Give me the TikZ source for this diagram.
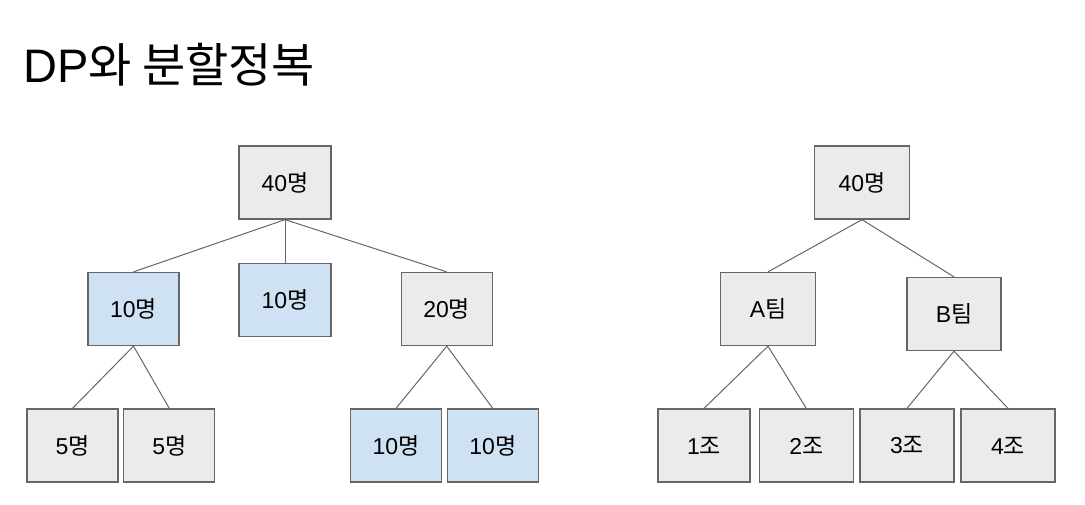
\documentclass[tikz,border=0pt]{standalone}
\usepackage{fontspec}
\setmainfont{Liberation Sans}
\newfontfamily\kr{Noto Sans CJK KR}
\definecolor{boxgray}{HTML}{EBEBEB}
\definecolor{boxblue}{HTML}{CFE2F3}
\definecolor{edgegray}{HTML}{666666}
\tikzset{
  tbox/.style={draw=edgegray, line width=1.3pt, fill=boxgray, minimum width=92pt, minimum height=73pt, inner sep=0pt, font=\fontsize{23}{26}\selectfont},
  bbox/.style={tbox, fill=boxblue},
  link/.style={draw=edgegray, line width=1pt}
}
\begin{document}
\begin{tikzpicture}[x=1pt,y=-1pt]
\useasboundingbox (0,0) rectangle (1085,505);
\node[anchor=base west, inner sep=0pt, font=\fontsize{47}{52}\selectfont] (title) at (23,82.3) {DP{\kr 와 분할정복}};
% left tree
\node[tbox] (r1) at (285,182.5) {40{\kr 명}};
\node[bbox, minimum width=91pt] (a1) at (133.5,309) {10{\kr 명}};
\node[bbox] (a2) at (285,300) {10{\kr 명}};
\node[tbox, minimum width=91pt] (a3) at (446.7,309) {20{\kr 명}};
\node[tbox, minimum width=91pt] (b1) at (72.5,445.5) {5{\kr 명}};
\node[tbox, minimum width=91pt] (b2) at (169.3,445.5) {5{\kr 명}};
\node[bbox, minimum width=91pt] (b3) at (396,445.5) {10{\kr 명}};
\node[bbox, minimum width=91pt] (b4) at (492.8,445.5) {10{\kr 명}};
\draw[link] (r1.south) -- (a1.north);
\draw[link] (r1.south) -- (a2.north);
\draw[link] (r1.south) -- (a3.north);
\draw[link] (a1.south) -- (b1.north);
\draw[link] (a1.south) -- (b2.north);
\draw[link] (a3.south) -- (b3.north);
\draw[link] (a3.south) -- (b4.north);
% right tree
\node[tbox, minimum width=94.5pt] (r2) at (862,182.5) {40{\kr 명}};
\node[tbox, minimum width=94.5pt] (c1) at (768,309) {A{\kr 팀}};
\node[tbox, minimum width=94pt] (c2) at (954,314) {B{\kr 팀}};
\node[tbox, minimum width=92pt] (d1) at (704,445.5) {1{\kr 조}};
\node[tbox, minimum width=94pt] (d2) at (806.3,445.5) {2{\kr 조}};
\node[tbox, minimum width=94pt] (d3) at (907,445.5) {3{\kr 조}};
\node[tbox, minimum width=94pt] (d4) at (1008,445.5) {4{\kr 조}};
\draw[link] (r2.south) -- (c1.north);
\draw[link] (r2.south) -- (c2.north);
\draw[link] (c1.south) -- (d1.north);
\draw[link] (c1.south) -- (d2.north);
\draw[link] (c2.south) -- (d3.north);
\draw[link] (c2.south) -- (d4.north);
\end{tikzpicture}
\end{document}
